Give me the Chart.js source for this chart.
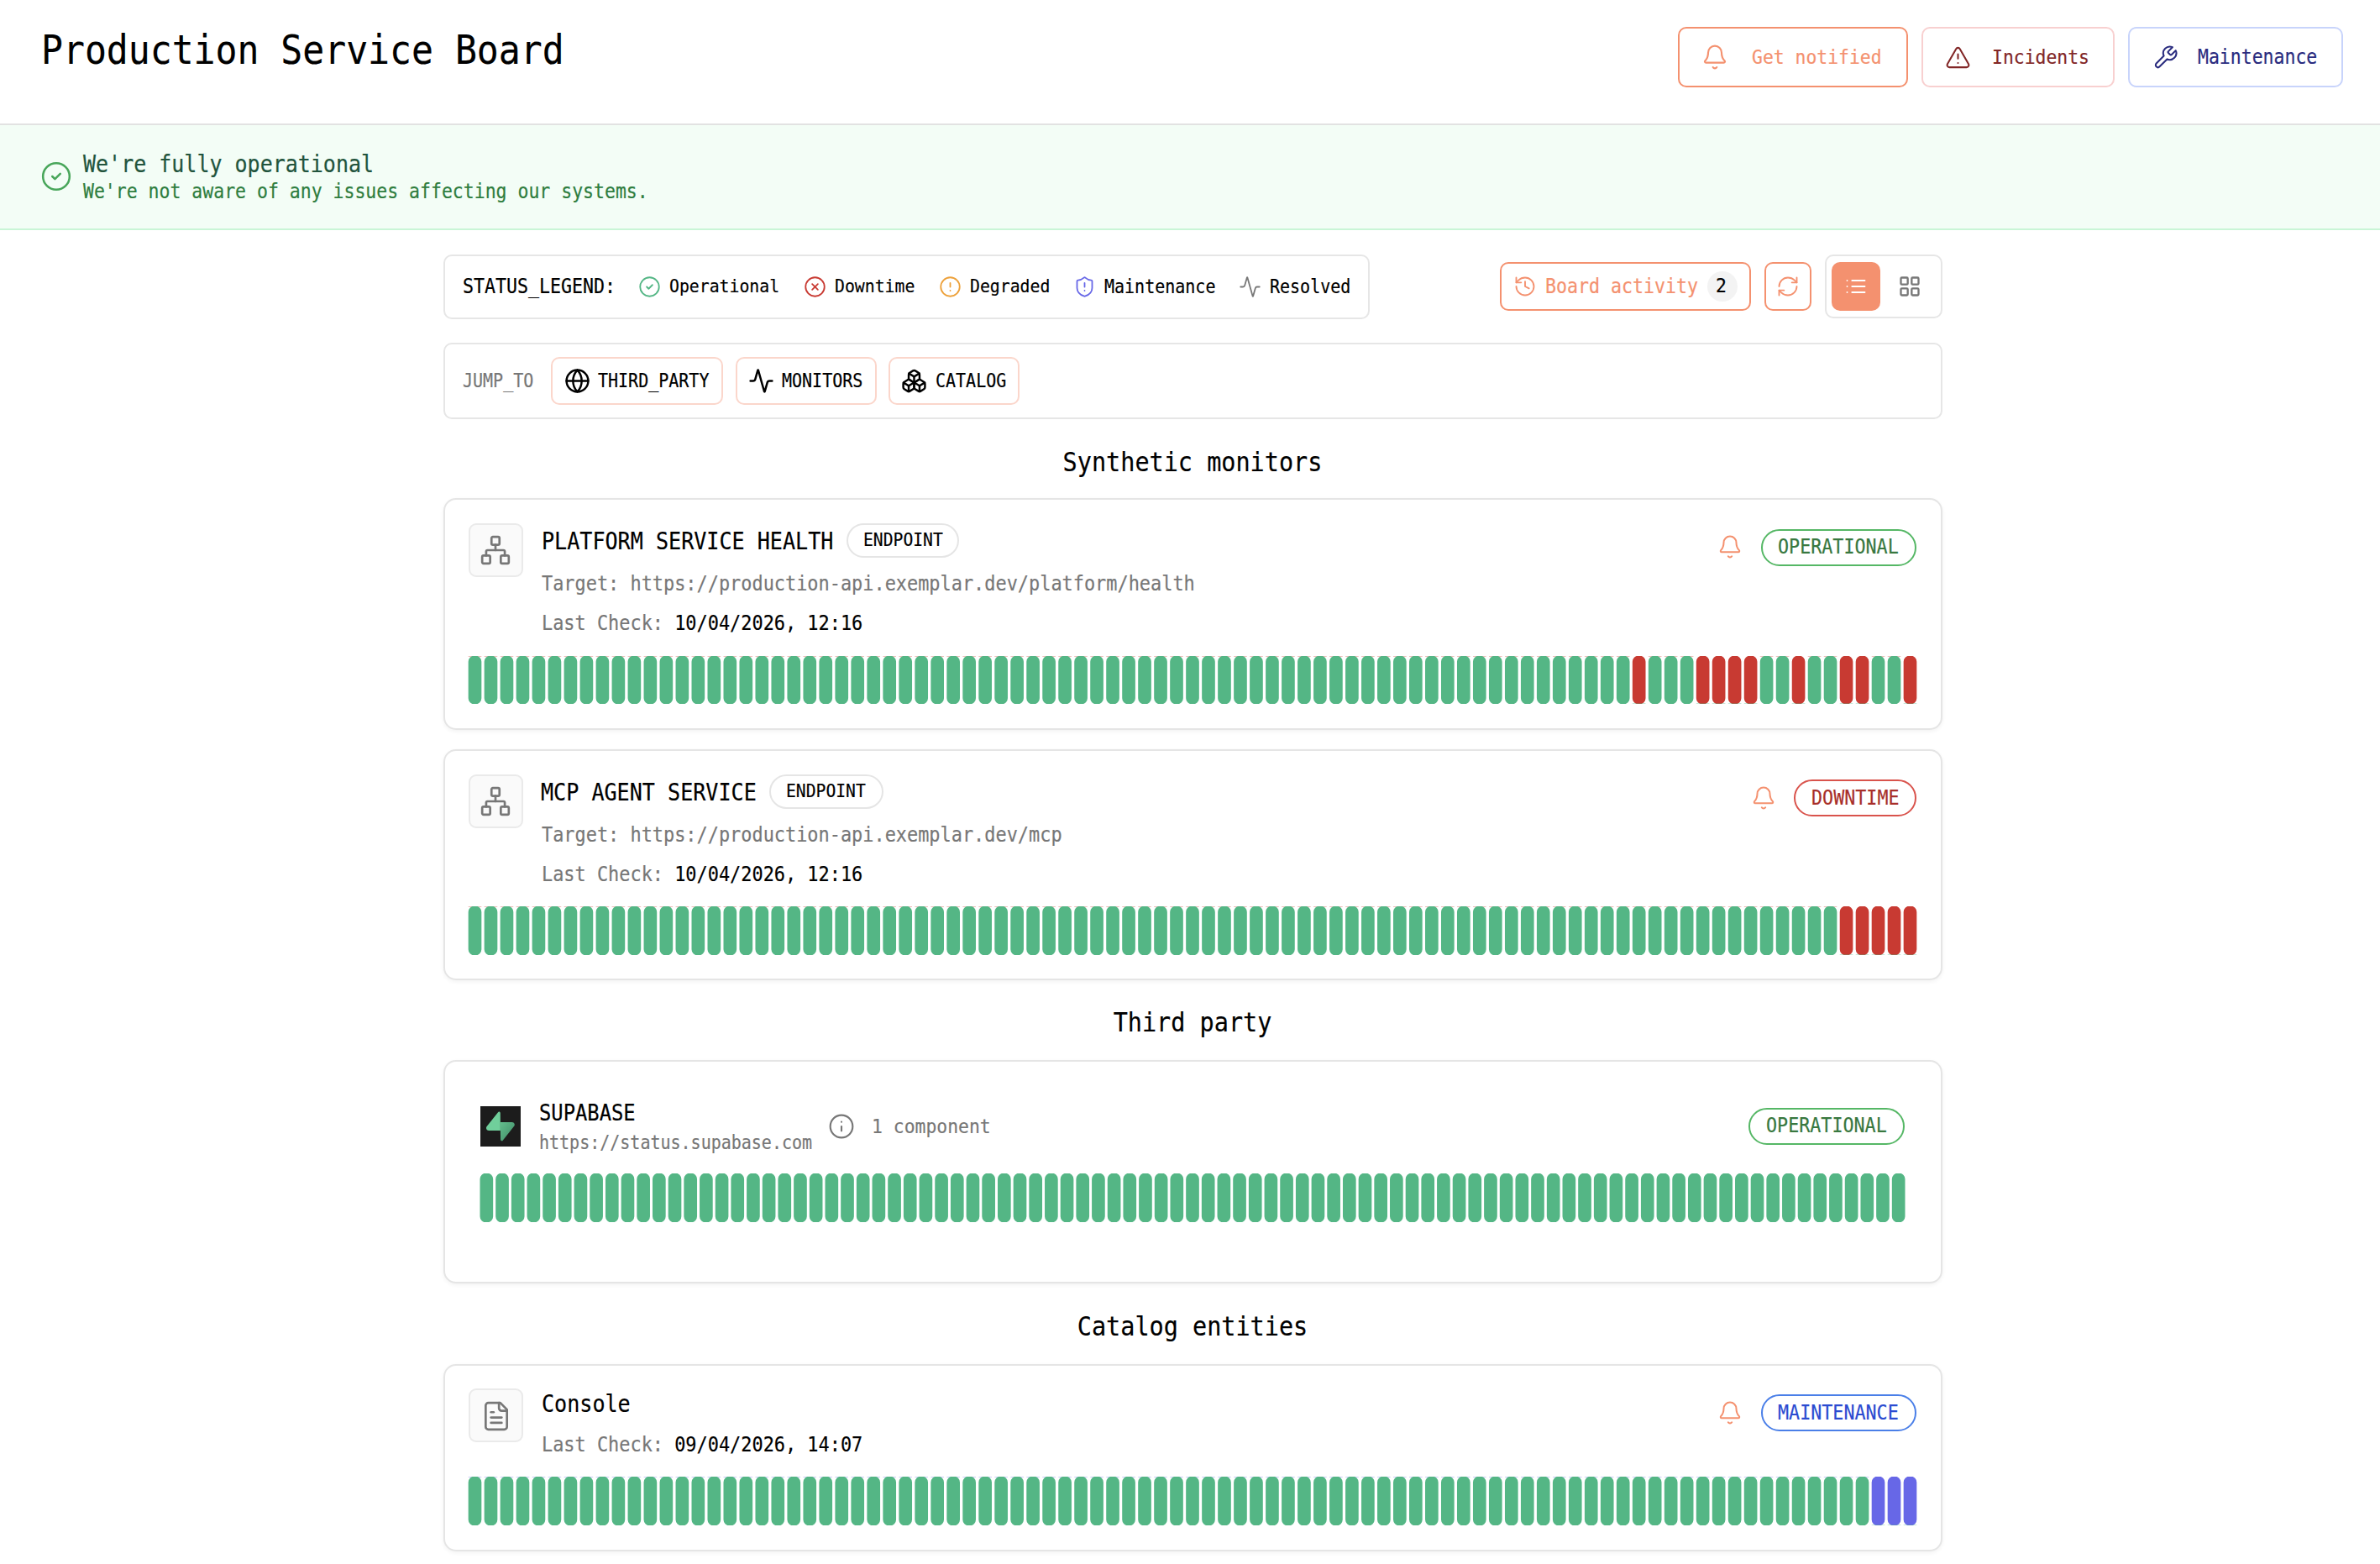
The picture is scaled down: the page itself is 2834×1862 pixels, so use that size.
<!DOCTYPE html>
<html>
<head>
<meta charset="utf-8">
<title>Production Service Board</title>
<script src="https://cdn.jsdelivr.net/npm/chart.js@4"></script>
<style>
    html, body { margin: 0; padding: 0; background: #fff; overflow: hidden; }
    body { width: 2834px; height: 1862px; position: relative; font-family: "DejaVu Sans Mono", monospace; color: #000; }

    /* boxes are given by their edges, text by x + baseline + advance-based size */
    .box { position: absolute; box-sizing: border-box; left: calc(var(--l) * 1px); top: calc(var(--t) * 1px);
           width: calc((var(--r) - var(--l)) * 1px); height: calc((var(--b) - var(--t)) * 1px); }
    /* the reference face is taller for the same advance, so the glyphs are narrowed a little */
    .t { position: absolute; left: calc(var(--x) * 1px); top: calc((var(--y) - 20 - .3844 * var(--f)) * 1px);
         font-size: calc(var(--f) / .9 * 1px); line-height: 40px; white-space: pre;
         transform: scaleX(.9); transform-origin: left center; -webkit-text-stroke: .2px currentColor; }
    .ic { position: absolute; left: calc((var(--x) - var(--s) / 2) * 1px); top: calc((var(--y) - var(--s) / 2) * 1px);
          width: calc(var(--s) * 1px); height: calc(var(--s) * 1px); fill: none; stroke: currentColor;
          stroke-width: 1.6; stroke-linecap: round; stroke-linejoin: round; }
    canvas { position: absolute; display: block; }

    .panel { border: 2px solid #e6e6e6; border-radius: 10px; background: #fff; }
    .card { border: 2px solid #e5e5e5; border-radius: 15px; background: #fff; box-shadow: 0 2px 5px rgba(0,0,0,.05); }
    .btn { border: 2px solid; border-radius: 10px; background: #fff; }
    .pill { border: 2px solid; border-radius: 24px; background: #fff; }
    .tile { border: 2px solid #eaeaea; border-radius: 9px; background: #fafafa; }
    .tag { border: 2px solid #e5e5e5; border-radius: 22px; background: #fff; }
    .grey { color: #777; }
    .coral { color: #f4916f; }
    .t.head { transform: translateX(-50%) scaleX(.9); transform-origin: center center; }
</style>
</head>
<body>
<svg width="0" height="0" style="position:absolute">
    <symbol id="bell" viewBox="0 0 24 24"><path d="M10.268 21a2 2 0 0 0 3.464 0"/><path d="M3.262 15.326A1 1 0 0 0 4 17h16a1 1 0 0 0 .74-1.673C19.41 13.956 18 12.499 18 8A6 6 0 0 0 6 8c0 4.499-1.411 5.956-2.738 7.326"/></symbol>
    <symbol id="alert" viewBox="0 0 24 24"><path d="m21.73 18-8-14a2 2 0 0 0-3.48 0l-8 14A2 2 0 0 0 4 21h16a2 2 0 0 0 1.73-3"/><path d="M12 9v4"/><path d="M12 17h.01"/></symbol>
    <symbol id="wrench" viewBox="0 0 24 24"><path d="M14.7 6.3a1 1 0 0 0 0 1.4l1.6 1.6a1 1 0 0 0 1.4 0l3.77-3.77a6 6 0 0 1-7.94 7.94l-6.91 6.91a2.12 2.12 0 0 1-3-3l6.91-6.91a6 6 0 0 1 7.94-7.94l-3.76 3.76z"/></symbol>
    <symbol id="check" viewBox="0 0 24 24"><circle cx="12" cy="12" r="10"/><path d="m9 12 2 2 4-4"/></symbol>
    <symbol id="cross" viewBox="0 0 24 24"><circle cx="12" cy="12" r="10"/><path d="m15 9-6 6"/><path d="m9 9 6 6"/></symbol>
    <symbol id="warn" viewBox="0 0 24 24"><circle cx="12" cy="12" r="10"/><path d="M12 8v4"/><path d="M12 16h.01"/></symbol>
    <symbol id="shield" viewBox="0 0 24 24"><path d="M20 13c0 5-3.5 7.5-7.66 8.95a1 1 0 0 1-.67-.01C7.5 20.5 4 18 4 13V6a1 1 0 0 1 1-1c2 0 4.5-1.2 6.24-2.72a1.17 1.17 0 0 1 1.52 0C14.51 3.81 17 5 19 5a1 1 0 0 1 1 1z"/><path d="M12 8v4"/><path d="M12 16h.01"/></symbol>
    <symbol id="activity" viewBox="0 0 24 24"><path d="M22 12h-2.48a2 2 0 0 0-1.93 1.46l-2.35 8.36a.25.25 0 0 1-.48 0L9.24 2.18a.25.25 0 0 0-.48 0l-2.35 8.36A2 2 0 0 1 4.49 12H2"/></symbol>
    <symbol id="history" viewBox="0 0 24 24"><path d="M3 12a9 9 0 1 0 9-9 9.75 9.75 0 0 0-6.74 2.74L3 8"/><path d="M3 3v5h5"/><path d="M12 7v5l4 2"/></symbol>
    <symbol id="refresh" viewBox="0 0 24 24"><path d="M3 12a9 9 0 0 1 9-9 9.75 9.75 0 0 1 6.74 2.74L21 8"/><path d="M21 3v5h-5"/><path d="M21 12a9 9 0 0 1-9 9 9.75 9.75 0 0 1-6.74-2.74L3 16"/><path d="M8 16H3v5"/></symbol>
    <symbol id="list" viewBox="0 0 24 24"><path d="M3 12h.01"/><path d="M3 18h.01"/><path d="M3 6h.01"/><path d="M8 12h13"/><path d="M8 18h13"/><path d="M8 6h13"/></symbol>
    <symbol id="grid" viewBox="0 0 24 24"><rect x="3" y="3" width="7" height="7" rx="1"/><rect x="14" y="3" width="7" height="7" rx="1"/><rect x="14" y="14" width="7" height="7" rx="1"/><rect x="3" y="14" width="7" height="7" rx="1"/></symbol>
    <symbol id="globe" viewBox="0 0 24 24"><circle cx="12" cy="12" r="10"/><path d="M12 2a14.5 14.5 0 0 0 0 20 14.5 14.5 0 0 0 0-20"/><path d="M2 12h20"/></symbol>
    <symbol id="boxes" viewBox="0 0 24 24"><path d="M2.97 12.92A2 2 0 0 0 2 14.63v3.24a2 2 0 0 0 .97 1.71l3 1.8a2 2 0 0 0 2.06 0L12 19v-5.5l-5-3-4.03 2.42Z"/><path d="m7 16.5-4.74-2.85"/><path d="m7 16.5 5-3"/><path d="M7 16.5v5.17"/><path d="M12 13.5V19l3.97 2.38a2 2 0 0 0 2.06 0l3-1.8a2 2 0 0 0 .97-1.71v-3.24a2 2 0 0 0-.97-1.71L17 10.5l-5 3Z"/><path d="m17 16.5-5-3"/><path d="m17 16.5 4.74-2.85"/><path d="M17 16.5v5.17"/><path d="M7.97 4.42A2 2 0 0 0 7 6.13v4.37l5 3 5-3V6.13a2 2 0 0 0-.97-1.71l-3-1.8a2 2 0 0 0-2.06 0l-3 1.8Z"/><path d="M12 8 7.26 5.15"/><path d="m12 8 4.74-2.85"/><path d="M12 13.5V8"/></symbol>
    <symbol id="network" viewBox="0 0 24 24"><rect x="16" y="16" width="6" height="6" rx="1"/><rect x="2" y="16" width="6" height="6" rx="1"/><rect x="9" y="2" width="6" height="6" rx="1"/><path d="M5 16v-3a1 1 0 0 1 1-1h12a1 1 0 0 1 1 1v3"/><path d="M12 12V8"/></symbol>
    <symbol id="file" viewBox="0 0 24 24"><path d="M15 2H6a2 2 0 0 0-2 2v16a2 2 0 0 0 2 2h12a2 2 0 0 0 2-2V7Z"/><path d="M14 2v4a2 2 0 0 0 2 2h4"/><path d="M10 9H8"/><path d="M16 13H8"/><path d="M16 17H8"/></symbol>
    <symbol id="info" viewBox="0 0 24 24"><circle cx="12" cy="12" r="10"/><path d="M12 16v-4"/><path d="M12 8h.01"/></symbol>
</svg>

<!-- header -->
<div class="t" style="--x:49;--y:76.7;--f:43.1">Production Service Board</div>
<div class="box btn" style="--l:1998;--t:32;--r:2272;--b:104;border-color:#f4916f"></div>
<svg class="ic coral" style="--x:2042;--y:68;--s:32"><use href="#bell"/></svg>
<div class="t coral" style="--x:2086;--y:76;--f:21.4">Get notified</div>
<div class="box btn" style="--l:2287.5;--t:32;--r:2518;--b:104;border-color:#f8d0d0"></div>
<svg class="ic" style="--x:2331;--y:68;--s:31;color:#822727"><use href="#alert"/></svg>
<div class="t" style="--x:2371.5;--y:76;--f:21.4;color:#822727">Incidents</div>
<div class="box btn" style="--l:2534;--t:32;--r:2790;--b:104;border-color:#c8d4fb"></div>
<svg class="ic" style="--x:2578;--y:68;--s:31;color:#2a2c7f"><use href="#wrench"/></svg>
<div class="t" style="--x:2617;--y:76;--f:21.5;color:#2a2c7f">Maintenance</div>

<!-- banner -->
<div class="box" style="--l:0;--t:147;--r:2834;--b:274;background:#f3fdf6;border-top:2px solid #e2e2e2;border-bottom:2px solid #c9f5d6"></div>
<svg class="ic" style="--x:66.5;--y:210;--s:38;color:#48a65a"><use href="#check"/></svg>
<div class="t" style="--x:98.5;--y:206;--f:25;color:#22543d">We're fully operational</div>
<div class="t" style="--x:98.5;--y:236.5;--f:21.5;color:#2f7d3f">We're not aware of any issues affecting our systems.</div>

<!-- status legend -->
<div class="box panel" style="--l:527.5;--t:303;--r:1631;--b:380"></div>
<div class="t" style="--x:551;--y:349;--f:21.6">STATUS_LEGEND:</div>
<svg class="ic" style="--x:773.5;--y:341;--s:27;color:#54b685"><use href="#check"/></svg>
<div class="t" style="--x:797;--y:349;--f:19.8">Operational</div>
<svg class="ic" style="--x:970.5;--y:341;--s:27;color:#c83a32"><use href="#cross"/></svg>
<div class="t" style="--x:994;--y:349;--f:19.8">Downtime</div>
<svg class="ic" style="--x:1131;--y:341;--s:27;color:#eda13a"><use href="#warn"/></svg>
<div class="t" style="--x:1155;--y:349;--f:19.8">Degraded</div>
<svg class="ic" style="--x:1291;--y:341;--s:27;color:#6767e7"><use href="#shield"/></svg>
<div class="t" style="--x:1314.5;--y:349;--f:20">Maintenance</div>
<svg class="ic" style="--x:1488;--y:341;--s:27;color:#777"><use href="#activity"/></svg>
<div class="t" style="--x:1511.5;--y:349;--f:20">Resolved</div>

<!-- toolbar -->
<div class="box btn" style="--l:1785.5;--t:312;--r:2085;--b:370;border-color:#f4916f"></div>
<svg class="ic coral" style="--x:1816;--y:341;--s:28"><use href="#history"/></svg>
<div class="t coral" style="--x:1840;--y:349;--f:21.6">Board activity</div>
<div class="box" style="--l:2033;--t:323;--r:2069;--b:359;background:#f3f3f3;border-radius:18px"></div>
<div class="t" style="--x:2042.5;--y:348;--f:21.4">2</div>
<div class="box btn" style="--l:2101;--t:312;--r:2157;--b:370;border-color:#f4916f"></div>
<svg class="ic coral" style="--x:2129;--y:341;--s:28"><use href="#refresh"/></svg>
<div class="box panel" style="--l:2173;--t:303;--r:2313;--b:379"></div>
<div class="box" style="--l:2181;--t:312;--r:2239;--b:370;background:#f4916f;border-radius:10px"></div>
<svg class="ic" style="--x:2210;--y:341;--s:28;color:#fff"><use href="#list"/></svg>
<svg class="ic" style="--x:2274;--y:341;--s:28;color:#777;stroke-width:2"><use href="#grid"/></svg>

<!-- jump to -->
<div class="box panel" style="--l:527.5;--t:408;--r:2313;--b:499"></div>
<div class="t grey" style="--x:551;--y:461;--f:20">JUMP_TO</div>
<div class="box btn" style="--l:656;--t:425;--r:861;--b:482;border-color:#fbd6cb"></div>
<svg class="ic" style="--x:687;--y:453;--s:31;stroke-width:1.9"><use href="#globe"/></svg>
<div class="t" style="--x:712;--y:461;--f:20">THIRD_PARTY</div>
<div class="box btn" style="--l:875.5;--t:425;--r:1043.5;--b:482;border-color:#fbd6cb"></div>
<svg class="ic" style="--x:906;--y:453;--s:31;stroke-width:1.9"><use href="#activity"/></svg>
<div class="t" style="--x:931;--y:461;--f:20">MONITORS</div>
<div class="box btn" style="--l:1058;--t:425;--r:1213.5;--b:482;border-color:#fbd6cb"></div>
<svg class="ic" style="--x:1088;--y:453;--s:31;stroke-width:1.9"><use href="#boxes"/></svg>
<div class="t" style="--x:1114;--y:461;--f:20">CATALOG</div>

<!-- synthetic monitors -->
<div class="t head" style="--x:1420;--y:561;--f:28.5">Synthetic monitors</div>

<div class="box card" style="--l:527.5;--t:592.5;--r:2313;--b:868.5"></div>
<div class="box tile" style="--l:558;--t:623;--r:623;--b:687"></div>
<svg class="ic grey" style="--x:590;--y:655;--s:38;stroke-width:1.7"><use href="#network"/></svg>
<div class="t" style="--x:644.5;--y:654.5;--f:25.1">PLATFORM SERVICE HEALTH</div>
<div class="box tag" style="--l:1007.5;--t:623;--r:1141.5;--b:664"></div>
<div class="t" style="--x:1027.5;--y:651;--f:19.7">ENDPOINT</div>
<div class="t grey" style="--x:644.5;--y:703.5;--f:21.9">Target: https://production-api.exemplar.dev/platform/health</div>
<div class="t grey" style="--x:644.5;--y:750.5;--f:21.9">Last Check: <span style="color:#000">10/04/2026, 12:16</span></div>
<svg class="ic coral" style="--x:2060;--y:651;--s:30"><use href="#bell"/></svg>
<div class="box pill" style="--l:2097;--t:630;--r:2282;--b:674;border-color:#55b765"></div>
<div class="t" style="--x:2116.5;--y:659;--f:21.7;color:#38783f">OPERATIONAL</div>
<canvas id="platformBars" width="1728" height="57" style="left:556px;top:781px"></canvas>

<div class="box card" style="--l:527.5;--t:891.5;--r:2313;--b:1166.5"></div>
<div class="box tile" style="--l:558;--t:922;--r:623;--b:986"></div>
<svg class="ic grey" style="--x:590;--y:954;--s:38;stroke-width:1.7"><use href="#network"/></svg>
<div class="t" style="--x:643.5;--y:953.5;--f:25.1">MCP AGENT SERVICE</div>
<div class="box tag" style="--l:916;--t:922;--r:1051.5;--b:963"></div>
<div class="t" style="--x:936;--y:950;--f:19.7">ENDPOINT</div>
<div class="t grey" style="--x:644.5;--y:1002;--f:21.9">Target: https://production-api.exemplar.dev/mcp</div>
<div class="t grey" style="--x:644.5;--y:1049;--f:21.9">Last Check: <span style="color:#000">10/04/2026, 12:16</span></div>
<svg class="ic coral" style="--x:2100;--y:950;--s:30"><use href="#bell"/></svg>
<div class="box pill" style="--l:2136;--t:928;--r:2282;--b:972;border-color:#d9534c"></div>
<div class="t" style="--x:2156.5;--y:958.5;--f:21.7;color:#a82f2a">DOWNTIME</div>
<canvas id="mcpBars" width="1728" height="58" style="left:556px;top:1079px"></canvas>

<!-- third party -->
<div class="t head" style="--x:1420;--y:1228;--f:28.5">Third party</div>

<div class="box card" style="--l:527.5;--t:1261.5;--r:2313;--b:1528"></div>
<svg style="position:absolute;left:572px;top:1317px;width:48px;height:48px">
    <defs><linearGradient id="boltShade" x1="0" y1="0" x2="1" y2="1"><stop offset="0" stop-color="#63bd8d"/><stop offset="1" stop-color="#3f8a66"/></linearGradient></defs>
    <rect width="48" height="48" fill="#1c1c1c"/>
    <g transform="translate(7 6.5) scale(.31)">
        <path d="M63.7076 110.284C60.8481 113.885 55.0502 111.912 54.9813 107.314L53.9738 40.0627L99.1935 40.0627C107.384 40.0627 111.952 49.5228 106.859 55.9374L63.7076 110.284Z" fill="url(#boltShade)"/>
        <path d="M45.317 2.07103C48.1765 -1.53037 53.9745 0.442937 54.0434 5.041L54.4849 72.2922H9.83113C1.64038 72.2922 -2.92775 62.8321 2.1655 56.4175L45.317 2.07103Z" fill="#70cf9b"/>
    </g>
</svg>
<div class="t" style="--x:642;--y:1334;--f:23.8">SUPABASE</div>
<div class="t grey" style="--x:642;--y:1368;--f:20">https://status.supabase.com</div>
<svg class="ic grey" style="--x:1002;--y:1341;--s:32"><use href="#info"/></svg>
<div class="t grey" style="--x:1038;--y:1349;--f:21.4">1 component</div>
<div class="box pill" style="--l:2082;--t:1319;--r:2268;--b:1363;border-color:#55b765"></div>
<div class="t" style="--x:2102.5;--y:1348.5;--f:21.7;color:#38783f">OPERATIONAL</div>
<canvas id="supabaseBars" width="1700" height="58" style="left:570px;top:1397px"></canvas>

<!-- catalog -->
<div class="t head" style="--x:1420;--y:1590;--f:28.5">Catalog entities</div>

<div class="box card" style="--l:527.5;--t:1623.5;--r:2313;--b:1846.5"></div>
<div class="box tile" style="--l:558;--t:1653;--r:623;--b:1717"></div>
<svg class="ic grey" style="--x:590.5;--y:1685.5;--s:38;stroke-width:1.7"><use href="#file"/></svg>
<div class="t" style="--x:644.5;--y:1681.5;--f:25.1">Console</div>
<div class="t grey" style="--x:644.5;--y:1728.5;--f:21.9">Last Check: <span style="color:#000">09/04/2026, 14:07</span></div>
<svg class="ic coral" style="--x:2060;--y:1682;--s:30"><use href="#bell"/></svg>
<div class="box pill" style="--l:2097;--t:1660;--r:2282;--b:1704;border-color:#4a7fe8"></div>
<div class="t" style="--x:2116.5;--y:1690;--f:21.7;color:#2b4bd1">MAINTENANCE</div>
<canvas id="consoleBars" width="1728" height="58" style="left:556px;top:1758px"></canvas>

<script>
    // one slot per day on the board
    const dayLabels = [
        1, 2, 3, 4, 5, 6, 7, 8, 9, 10,
        11, 12, 13, 14, 15, 16, 17, 18, 19, 20,
        21, 22, 23, 24, 25, 26, 27, 28, 29, 30,
        31, 32, 33, 34, 35, 36, 37, 38, 39, 40,
        41, 42, 43, 44, 45, 46, 47, 48, 49, 50,
        51, 52, 53, 54, 55, 56, 57, 58, 59, 60,
        61, 62, 63, 64, 65, 66, 67, 68, 69, 70,
        71, 72, 73, 74, 75, 76, 77, 78, 79, 80,
        81, 82, 83, 84, 85, 86, 87, 88, 89, 90,
        91
    ];

    const platformUp = [
        1, 1, 1, 1, 1, 1, 1, 1, 1, 1,
        1, 1, 1, 1, 1, 1, 1, 1, 1, 1,
        1, 1, 1, 1, 1, 1, 1, 1, 1, 1,
        1, 1, 1, 1, 1, 1, 1, 1, 1, 1,
        1, 1, 1, 1, 1, 1, 1, 1, 1, 1,
        1, 1, 1, 1, 1, 1, 1, 1, 1, 1,
        1, 1, 1, 1, 1, 1, 1, 1, 1, 1,
        1, 1, 1, 0, 1, 1, 1, 0, 0, 0,
        0, 1, 1, 0, 1, 1, 0, 0, 1, 1,
        0
    ];
    const platformDown = [
        0, 0, 0, 0, 0, 0, 0, 0, 0, 0,
        0, 0, 0, 0, 0, 0, 0, 0, 0, 0,
        0, 0, 0, 0, 0, 0, 0, 0, 0, 0,
        0, 0, 0, 0, 0, 0, 0, 0, 0, 0,
        0, 0, 0, 0, 0, 0, 0, 0, 0, 0,
        0, 0, 0, 0, 0, 0, 0, 0, 0, 0,
        0, 0, 0, 0, 0, 0, 0, 0, 0, 0,
        0, 0, 0, 1, 0, 0, 0, 1, 1, 1,
        1, 0, 0, 1, 0, 0, 1, 1, 0, 0,
        1
    ];

    const mcpUp = [
        1, 1, 1, 1, 1, 1, 1, 1, 1, 1,
        1, 1, 1, 1, 1, 1, 1, 1, 1, 1,
        1, 1, 1, 1, 1, 1, 1, 1, 1, 1,
        1, 1, 1, 1, 1, 1, 1, 1, 1, 1,
        1, 1, 1, 1, 1, 1, 1, 1, 1, 1,
        1, 1, 1, 1, 1, 1, 1, 1, 1, 1,
        1, 1, 1, 1, 1, 1, 1, 1, 1, 1,
        1, 1, 1, 1, 1, 1, 1, 1, 1, 1,
        1, 1, 1, 1, 1, 1, 0, 0, 0, 0,
        0
    ];
    const mcpDown = [
        0, 0, 0, 0, 0, 0, 0, 0, 0, 0,
        0, 0, 0, 0, 0, 0, 0, 0, 0, 0,
        0, 0, 0, 0, 0, 0, 0, 0, 0, 0,
        0, 0, 0, 0, 0, 0, 0, 0, 0, 0,
        0, 0, 0, 0, 0, 0, 0, 0, 0, 0,
        0, 0, 0, 0, 0, 0, 0, 0, 0, 0,
        0, 0, 0, 0, 0, 0, 0, 0, 0, 0,
        0, 0, 0, 0, 0, 0, 0, 0, 0, 0,
        0, 0, 0, 0, 0, 0, 1, 1, 1, 1,
        1
    ];

    const supabaseUp = [
        1, 1, 1, 1, 1, 1, 1, 1, 1, 1,
        1, 1, 1, 1, 1, 1, 1, 1, 1, 1,
        1, 1, 1, 1, 1, 1, 1, 1, 1, 1,
        1, 1, 1, 1, 1, 1, 1, 1, 1, 1,
        1, 1, 1, 1, 1, 1, 1, 1, 1, 1,
        1, 1, 1, 1, 1, 1, 1, 1, 1, 1,
        1, 1, 1, 1, 1, 1, 1, 1, 1, 1,
        1, 1, 1, 1, 1, 1, 1, 1, 1, 1,
        1, 1, 1, 1, 1, 1, 1, 1, 1, 1,
        1
    ];

    const consoleUp = [
        1, 1, 1, 1, 1, 1, 1, 1, 1, 1,
        1, 1, 1, 1, 1, 1, 1, 1, 1, 1,
        1, 1, 1, 1, 1, 1, 1, 1, 1, 1,
        1, 1, 1, 1, 1, 1, 1, 1, 1, 1,
        1, 1, 1, 1, 1, 1, 1, 1, 1, 1,
        1, 1, 1, 1, 1, 1, 1, 1, 1, 1,
        1, 1, 1, 1, 1, 1, 1, 1, 1, 1,
        1, 1, 1, 1, 1, 1, 1, 1, 1, 1,
        1, 1, 1, 1, 1, 1, 1, 1, 0, 0,
        0
    ];
    const consoleMaintenance = [
        0, 0, 0, 0, 0, 0, 0, 0, 0, 0,
        0, 0, 0, 0, 0, 0, 0, 0, 0, 0,
        0, 0, 0, 0, 0, 0, 0, 0, 0, 0,
        0, 0, 0, 0, 0, 0, 0, 0, 0, 0,
        0, 0, 0, 0, 0, 0, 0, 0, 0, 0,
        0, 0, 0, 0, 0, 0, 0, 0, 0, 0,
        0, 0, 0, 0, 0, 0, 0, 0, 0, 0,
        0, 0, 0, 0, 0, 0, 0, 0, 0, 0,
        0, 0, 0, 0, 0, 0, 0, 0, 1, 1,
        1
    ];

    const statusColors = { Operational: "#54b685", Downtime: "#c83a32", Maintenance: "#6767e7" };

    // Draws one status strip: a stacked bar per day with all axes hidden
    function drawStatusBars(canvasId, series) {
        const ctx = document.getElementById(canvasId).getContext("2d");

        return new Chart(ctx, {
            type: "bar",
            data: {
                labels: dayLabels,
                datasets: Object.keys(series).map(name => ({
                    label: name,
                    data: series[name],
                    backgroundColor: statusColors[name],
                    barThickness: 15,
                    borderRadius: 7,
                    borderSkipped: false
                }))
            },
            options: {
                responsive: false,
                animation: false,
                layout: { padding: 0 },
                scales: {
                    x: { display: false, stacked: true },
                    y: { display: false, stacked: true, min: 0, max: 1 }
                },
                plugins: {
                    legend: { display: false },
                    tooltip: { enabled: false }
                }
            }
        });
    }

    drawStatusBars("platformBars", { Operational: platformUp, Downtime: platformDown });
    drawStatusBars("mcpBars", { Operational: mcpUp, Downtime: mcpDown });
    drawStatusBars("supabaseBars", { Operational: supabaseUp });
    drawStatusBars("consoleBars", { Operational: consoleUp, Maintenance: consoleMaintenance });
</script>
</body>
</html>
